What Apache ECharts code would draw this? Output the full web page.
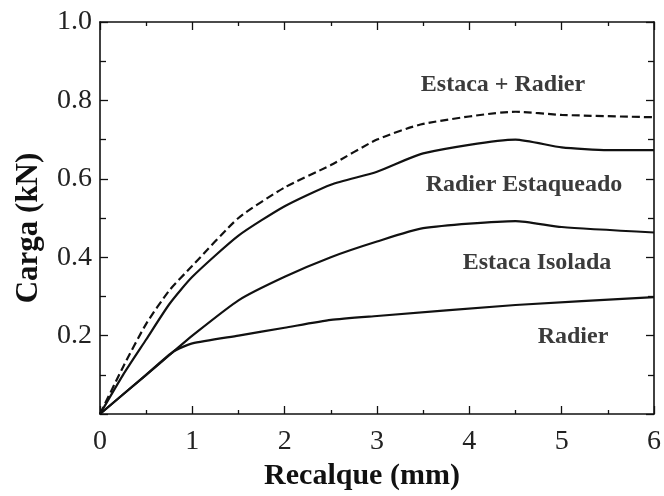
<!DOCTYPE html>
<html><head><meta charset="utf-8">
<script src="https://cdn.jsdelivr.net/npm/echarts@6/dist/echarts.min.js"></script>
<style>html,body{margin:0;padding:0;background:#fff}#c{width:664px;height:496px}</style>
</head><body><div id="c"></div>
<script>
const radierX = [0, 0.5, 0.8, 1, 1.5, 2, 2.5, 3, 4.5, 6];
const radierY = [0, 0.1, 0.16, 0.18, 0.2, 0.22, 0.24, 0.25, 0.278, 0.298];
const isoladaX = [0, 0.5, 0.8, 1, 1.5, 2, 2.5, 3, 3.5, 4.5, 5, 6];
const isoladaY = [0, 0.1, 0.16, 0.2, 0.29, 0.35, 0.4, 0.44, 0.474, 0.492, 0.477, 0.463];
const estaqueadoX = [0, 0.25, 0.5, 0.75, 1, 1.5, 2, 2.5, 3, 3.5, 4.5, 5, 5.5, 6];
const estaqueadoY = [0, 0.1, 0.19, 0.28, 0.35, 0.455, 0.53, 0.585, 0.618, 0.665, 0.70, 0.68, 0.673, 0.673];
const somaX = [0, 0.25, 0.5, 0.75, 1, 1.5, 2, 2.5, 3, 3.5, 4.5, 5, 6];
const somaY = [0, 0.12, 0.23, 0.315, 0.378, 0.5, 0.578, 0.635, 0.70, 0.74, 0.771, 0.763, 0.757];
const xTicks = [0, 1, 2, 3, 4, 5, 6];
const yTicks = [0.2, 0.4, 0.6, 0.8, 1.0];
const seriesNames = ['Radier', 'Estaca Isolada', 'Radier Estaqueado', 'Estaca + Radier'];

const zip = (xs, ys) => xs.map((x, i) => [x, ys[i]]);
const font = '"Liberation Serif", "Times New Roman", serif';
const chart = echarts.init(document.getElementById('c'));
const axisLine = {show: true, onZero: false, lineStyle: {color: '#111', width: 1.6}};
const baseX = {
  type: 'value', min: 0, max: 6, interval: 1,
  axisLine: axisLine,
  axisTick: {inside: true, length: 8, lineStyle: {color: '#111', width: 1.3}},
  minorTick: {show: true, splitNumber: 2, length: 4, lineStyle: {color: '#111', width: 1.3}},
  splitLine: {show: false}
};
const baseY = {
  type: 'value', min: 0, max: 1, interval: 0.2,
  axisLine: axisLine,
  axisTick: {inside: true, length: 8, lineStyle: {color: '#111', width: 1.3}},
  minorTick: {show: true, splitNumber: 2, length: 6, lineStyle: {color: '#111', width: 1.3}},
  splitLine: {show: false}
};
const lineSeries = (name, data, dashed) => ({
  name: name, type: 'line', data: data, symbol: 'none', smooth: 0.2,
  xAxisIndex: 0, yAxisIndex: 0,
  lineStyle: {color: '#111', width: 2.2, type: dashed ? [8, 4] : 'solid'}
});
const annot = (text, x, y) => ({
  type: 'text', x: x, y: y,
  style: {text: text, font: 'bold 24px ' + font, fill: '#3b3b3b', textAlign: 'center', textVerticalAlign: 'middle'}
});
chart.setOption({
  animation: false,
  grid: {left: 100, right: 10, top: 22, bottom: 82, containLabel: false, outerBoundsMode: 'none'},
  xAxis: [
    Object.assign({}, baseX, {
      position: 'bottom',
      name: 'Recalque (mm)', nameLocation: 'middle', nameGap: 47,
      nameTextStyle: {fontFamily: font, fontWeight: 'bold', fontSize: 30, color: '#111', padding: [0, 30, 0, 0]},
      axisLabel: {fontFamily: font, fontSize: 28, color: '#222', margin: 14,
        formatter: v => xTicks.includes(v) ? String(v) : ''}
    }),
    Object.assign({}, baseX, {position: 'top', axisLabel: {show: false}})
  ],
  yAxis: [
    Object.assign({}, baseY, {
      position: 'left',
      name: 'Carga (kN)', nameLocation: 'middle', nameGap: 56,
      nameTextStyle: {fontFamily: font, fontWeight: 'bold', fontSize: 31, color: '#111', padding: [0, 20, 0, 0]},
      axisLabel: {fontFamily: font, fontSize: 28, color: '#222', margin: 8,
        formatter: v => { const f = yTicks.find(t => Math.abs(t - v) < 1e-6); return f === undefined ? '' : f.toFixed(1); }}
    }),
    Object.assign({}, baseY, {position: 'right', axisLabel: {show: false}})
  ],
  series: [
    lineSeries(seriesNames[0], zip(radierX, radierY), false),
    lineSeries(seriesNames[1], zip(isoladaX, isoladaY), false),
    lineSeries(seriesNames[2], zip(estaqueadoX, estaqueadoY), false),
    lineSeries(seriesNames[3], zip(somaX, somaY), true)
  ],
  graphic: [
    annot(seriesNames[3], 503, 85),
    annot(seriesNames[2], 524, 185),
    annot(seriesNames[1], 537, 263),
    annot(seriesNames[0], 573, 337)
  ]
});
</script></body></html>
